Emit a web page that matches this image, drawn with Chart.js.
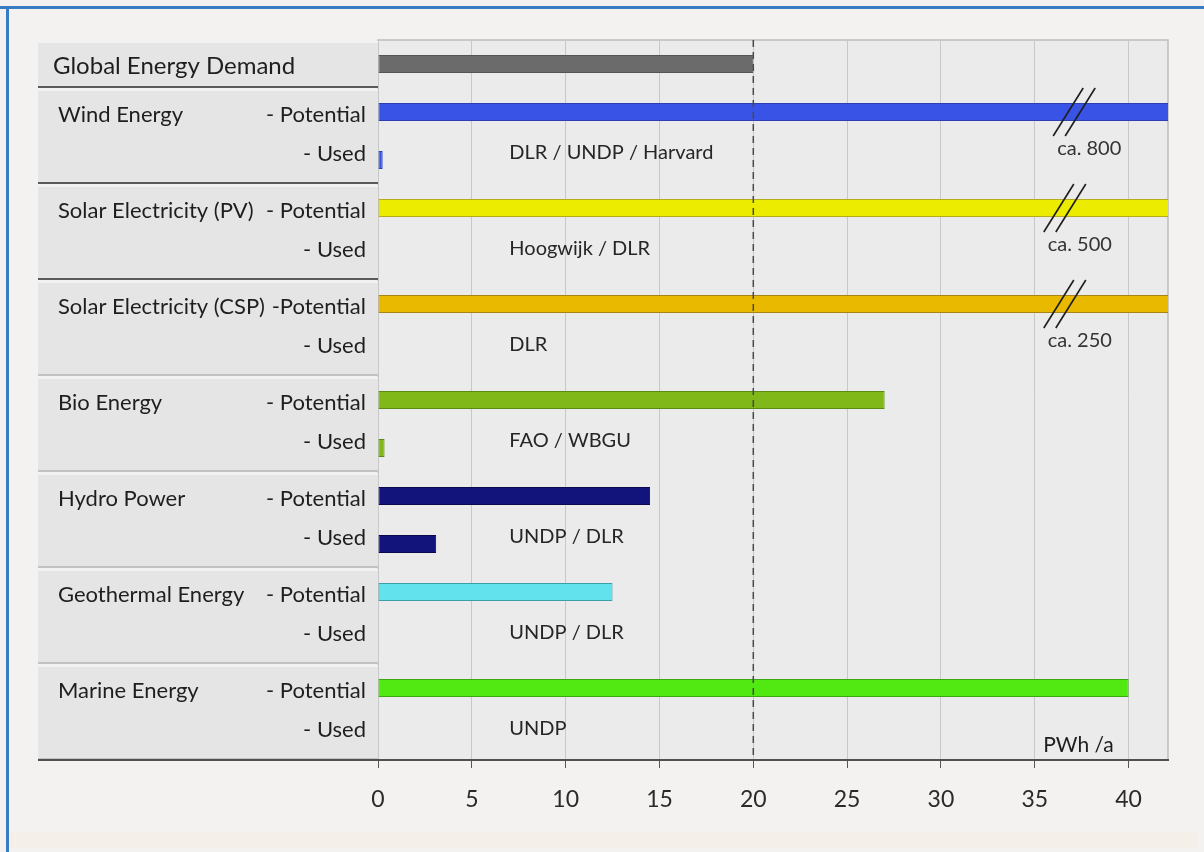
<!DOCTYPE html>
<html lang="en">
<head>
    <meta charset="UTF-8">
    <title>Renewable Energy Potentials</title>
    <script src="https://cdn.jsdelivr.net/npm/chart.js@4.4.1/dist/chart.umd.min.js"></script>
    <style>
        body { margin: 0; background: #f4f2f0; }
        canvas { display: block; }
    </style>
</head>
<body>
    <canvas id="energyChart" width="1204" height="852"></canvas>

    <script>
        // rows from top to bottom
        const rowLabels = [
            'Global Energy Demand',
            'Wind Energy - Potential', 'Wind Energy - Used',
            'Solar Electricity (PV) - Potential', 'Solar Electricity (PV) - Used',
            'Solar Electricity (CSP) - Potential', 'Solar Electricity (CSP) - Used',
            'Bio Energy - Potential', 'Bio Energy - Used',
            'Hydro Power - Potential', 'Hydro Power - Used',
            'Geothermal Energy - Potential', 'Geothermal Energy - Used',
            'Marine Energy - Potential', 'Marine Energy - Used'
        ];
        // PWh/a (wind, PV and CSP potentials run off the axis)
        const values = [20, 800, 0.25, 500, 0, 250, 0, 27, 0.35, 14.5, 3.1, 12.5, 0, 40, 0];
        const barColors = ['#6b6b6b', '#3953e6', '#3953e6', '#ecec00', '#ecec00', '#e9b900', '#e9b900',
            '#80b81a', '#80b81a', '#13137c', '#13137c', '#62e2ec', '#62e2ec', '#52e812', '#52e812'];
        const borderColors = ['#555555', '#2c40b4', '#2c40b4', '#b4ad1c', '#b4ad1c', '#a88414', '#a88414',
            '#5c8a12', '#5c8a12', '#0a0a50', '#0a0a50', '#3c9ea6', '#3c9ea6', '#3aa812', '#3aa812'];

        const groupNames = ['Wind Energy', 'Solar Electricity (PV)', 'Solar Electricity (CSP)', 'Bio Energy',
            'Hydro Power', 'Geothermal Energy', 'Marine Energy'];
        const sources = ['DLR / UNDP / Harvard', 'Hoogwijk / DLR', 'DLR', 'FAO / WBGU', 'UNDP / DLR', 'UNDP / DLR', 'UNDP'];
        const breakRows = [1, 3, 5];
        const breakLabels = ['ca. 800', 'ca. 500', 'ca. 250'];
        const breakAt = [37.1, 36.6, 36.6];

        const xTicks = [0, 5, 10, 15, 20, 25, 30, 35, 40];
        const xMax = 42.1;
        const demandLine = 20;
        const unitLabel = 'PWh /a';

        const FONT = 'Lato, "Open Sans", sans-serif';

        const framePlugin = {
            id: 'frame',
            beforeDraw(chart) {
                const c = chart.ctx;
                const a = chart.chartArea;
                c.save();
                c.fillStyle = '#f3f2f1';
                c.fillRect(8, 8, 1190, 824);
                c.fillStyle = '#f5efea';
                c.fillRect(8, 832, 1190, 16);
                c.fillStyle = '#3a7cc4';
                c.fillRect(0, 6, 1204, 3);
                c.fillRect(6, 6, 3, 846);
                // plot background
                c.fillStyle = '#ebebeb';
                c.fillRect(a.left, a.top, a.right - a.left, a.bottom - a.top);
                c.strokeStyle = '#bdbdbd';
                c.lineWidth = 1.5;
                c.strokeRect(a.left, a.top, a.right - a.left, a.bottom - a.top);
                c.restore();
            }
        };

        const panelPlugin = {
            id: 'panel',
            afterDraw(chart) {
                const c = chart.ctx;
                const a = chart.chartArea;
                const y = chart.scales.y;
                const x = chart.scales.x;
                const half = (y.getPixelForValue(1) - y.getPixelForValue(0)) / 2;
                const left = 38, right = a.left;
                c.save();

                // group boxes
                const groups = [[0, 0]];
                groupNames.forEach((g, i) => groups.push([1 + 2 * i, 2 + 2 * i]));
                groups.forEach((g, i) => {
                    const top = y.getPixelForValue(g[0]) - half + 1;
                    const bot = y.getPixelForValue(g[1]) + half - 2;
                    c.fillStyle = '#e5e5e5';
                    c.fillRect(left, top, right - left, bot - top);
                    c.fillStyle = '#f2f2f2';
                    c.fillRect(left, top, right - left, 2);
                    c.fillStyle = i < 3 ? '#5a5a5a' : '#c2c2c2';
                    c.fillRect(left, bot, right - left, 2);
                });
                // axis line carried under the panel
                c.fillStyle = '#505050';
                c.fillRect(left, a.bottom - 1, right - left, 2);

                c.fillStyle = '#1e1e1e';
                c.textBaseline = 'middle';
                c.font = '24px ' + FONT;
                c.textAlign = 'left';
                c.fillText(rowLabels[0], 53, y.getPixelForValue(0) + 2);
                c.font = '22px ' + FONT;
                groupNames.forEach((g, i) => {
                    const yp = y.getPixelForValue(1 + 2 * i) + 3;
                    const yu = y.getPixelForValue(2 + 2 * i) - 6;
                    c.textAlign = 'left';
                    c.fillText(g, 58, yp);
                    c.textAlign = 'right';
                    c.fillText(i === 2 ? '-Potential' : '- Potential', 366, yp);
                    c.fillText('- Used', 366, yu);
                });

                // sources
                c.textAlign = 'left';
                c.font = '20px ' + FONT;
                c.fillStyle = '#262626';
                sources.forEach((s, i) => {
                    c.fillText(s, x.getPixelForValue(7), y.getPixelForValue(2 + 2 * i) - 7);
                });

                // axis breaks
                breakRows.forEach((r, i) => {
                    const cx = x.getPixelForValue(breakAt[i]);
                    const cy = y.getPixelForValue(r);
                    c.strokeStyle = '#1e1e1e';
                    c.lineWidth = 1.6;
                    [-6, 6].forEach(dx => {
                        c.beginPath();
                        c.moveTo(cx + dx - 15, cy + 24);
                        c.lineTo(cx + dx + 15, cy - 24);
                        c.stroke();
                    });
                    c.font = '20px ' + FONT;
                    c.fillStyle = '#333';
                    c.textAlign = 'left';
                    c.fillText(breakLabels[i], cx - 17, cy + 37);
                });

                // unit
                c.font = '21px ' + FONT;
                c.fillStyle = '#1e1e1e';
                c.textAlign = 'right';
                c.fillText(unitLabel, x.getPixelForValue(39.2), a.bottom - 15);
                c.restore();
            }
        };

        const dashPlugin = {
            id: 'demandLine',
            afterDatasetsDraw(chart) {
                const c = chart.ctx;
                const a = chart.chartArea;
                const xp = chart.scales.x.getPixelForValue(demandLine);
                c.save();
                c.strokeStyle = '#4a4a4a';
                c.lineWidth = 1.5;
                c.setLineDash([7, 5]);
                c.beginPath();
                c.moveTo(xp, a.top);
                c.lineTo(xp, a.bottom);
                c.stroke();
                c.restore();
            }
        };

        const ctx = document.getElementById('energyChart').getContext('2d');
        const energyChart = new Chart(ctx, {
            type: 'bar',
            data: {
                labels: rowLabels,
                datasets: [{
                    data: values,
                    backgroundColor: barColors,
                    borderColor: borderColors,
                    borderWidth: 1,
                    borderSkipped: false,
                    barPercentage: 0.375,
                    categoryPercentage: 1
                }]
            },
            options: {
                indexAxis: 'y',
                responsive: false,
                animation: false,
                layout: { padding: { left: 378, top: 40, right: 36, bottom: 0 } },
                plugins: {
                    legend: { display: false },
                    tooltip: { enabled: false }
                },
                scales: {
                    y: { display: false },
                    x: {
                        min: 0,
                        max: xMax,
                        afterBuildTicks: scale => { scale.ticks = xTicks.map(v => ({ value: v })); },
                        afterFit: scale => { scale.height = 92; },
                        grid: { color: '#c8c8c8', lineWidth: 1, tickLength: 8, tickColor: '#555' },
                        border: { color: '#505050', width: 2 },
                        ticks: {
                            padding: 18,
                            color: '#2a2a2a',
                            font: { family: FONT, size: 23 }
                        }
                    }
                }
            },
            plugins: [framePlugin, dashPlugin, panelPlugin]
        });
    </script>
</body>
</html>
